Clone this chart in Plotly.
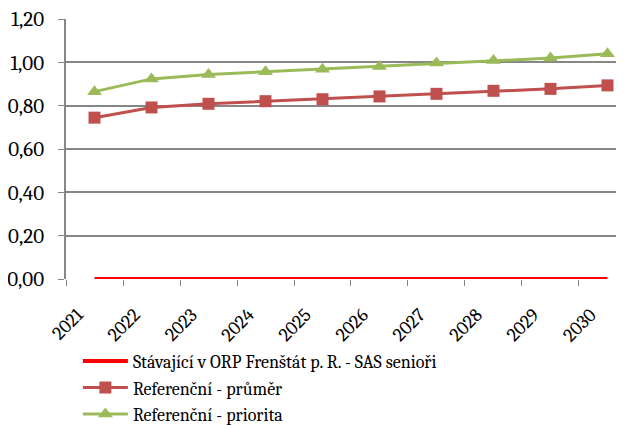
import plotly.graph_objects as go

years = ["2021", "2022", "2023", "2024", "2025", "2026", "2027", "2028", "2029", "2030"]
stavajici = [0, 0, 0, 0, 0, 0, 0, 0, 0, 0]
ref_prumer = [0.745, 0.792, 0.809, 0.821, 0.830, 0.843, 0.855, 0.869, 0.878, 0.894]
ref_priorita = [0.865, 0.924, 0.944, 0.957, 0.968, 0.981, 0.997, 1.009, 1.020, 1.040]

font_family = "Cambria, 'Liberation Serif', 'DejaVu Serif', serif"

fig = go.Figure()
fig.add_trace(go.Scatter(x=years, y=stavajici, mode="lines",
                         name="Stávající v ORP Frenštát p. R. - SAS senioři",
                         line=dict(color="#FF0000", width=4)))
fig.add_trace(go.Scatter(x=years, y=ref_prumer, mode="lines+markers",
                         name="Referenční - průměr",
                         line=dict(color="#C0504D", width=3),
                         marker=dict(symbol="square", size=12, color="#C0504D")))
fig.add_trace(go.Scatter(x=years, y=ref_priorita, mode="lines+markers",
                         name="Referenční - priorita",
                         line=dict(color="#9BBB59", width=3),
                         marker=dict(symbol="triangle-up", size=13, color="#9BBB59")))

# page body has a small margin, so the figure is shifted to compensate
fig.update_layout(
    width=624, height=426,
    margin=dict(l=58, r=0, t=11, b=155, autoexpand=False),
    plot_bgcolor="white", paper_bgcolor="white",
    separators=", ",
    font=dict(family=font_family, size=18, color="black"),
    showlegend=True,
    legend=dict(x=0.021, y=-0.592, xref="paper", yref="paper",
                xanchor="left", yanchor="bottom",
                orientation="v", tracegroupgap=0, itemwidth=45,
                font=dict(family=font_family, size=18)),
)
fig.update_xaxes(type="category", range=[-0.5, 9.43], tickangle=-45,
                 showgrid=False, showline=False, ticks="outside",
                 tickson="boundaries", ticklen=6, tickcolor="#868686",
                 ticklabelstandoff=20, ticklabelshift=-17,
                 tickfont=dict(family=font_family, size=19), automargin=False)
fig.update_yaxes(range=[0, 1.2005], dtick=0.2, tickformat=".2f",
                 showgrid=True, gridcolor="#868686", gridwidth=1.5,
                 showline=True, linecolor="#868686", linewidth=1.5,
                 ticks="outside", ticklen=6, tickcolor="#868686",
                 ticklabelstandoff=10, ticklabeloverflow="allow",
                 zeroline=False, tickfont=dict(family=font_family, size=21),
                 automargin=False)

fig.write_html("out.html")
